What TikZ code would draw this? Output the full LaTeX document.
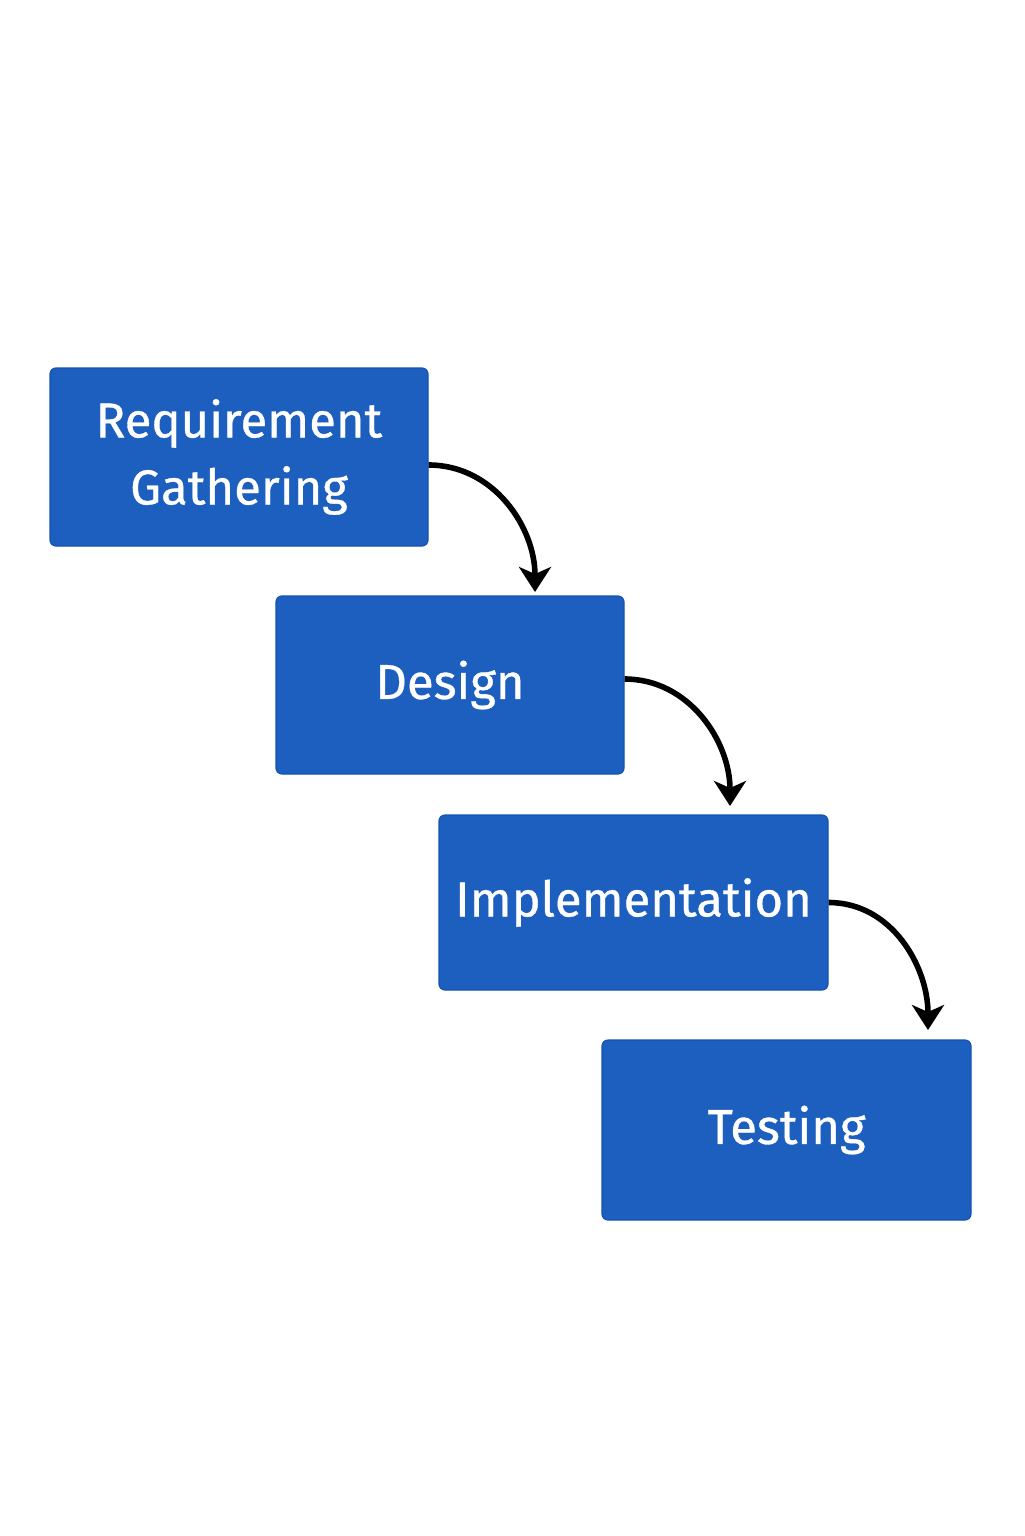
\documentclass[tikz,border=0pt]{standalone}
\usepackage{fontspec}
\setmainfont{Fira Sans}
\newfontfamily\stagefont[FakeBold=0.7]{Fira Sans}
\usetikzlibrary{arrows.meta}
\definecolor{stageblue}{HTML}{1D5FBE}
\definecolor{stageedge}{HTML}{1552B4}
\tikzset{
    stage/.style={draw=stageedge, line width=0.6pt, fill=stageblue, rounded corners=3pt,
        text=white, align=center, inner sep=0pt,
        font=\stagefont\fontsize{24.5}{33.5}\selectfont},
    flow/.style={line width=2.8pt, -{Stealth[length=12.5pt,width=16pt,inset=3.5pt]}},
}
\begin{document}
\begin{tikzpicture}[x=0.5pt, y=-0.5pt]
    \useasboundingbox (0,0) rectangle (1024,1536);
    \node[stage, minimum width=189pt, minimum height=89pt] (req) at (239,457) {Requirement\\Gathering};
    \node[stage, minimum width=174pt, minimum height=89pt] (des) at (450,685) {Design};
    \node[stage, minimum width=194.5pt, minimum height=87.5pt] (imp) at (633.5,902.5) {Implementation};
    \node[stage, minimum width=184.5pt, minimum height=90pt] (tes) at (786.5,1130) {Testing};
    % arrow tips just above the next box
    \coordinate (t1) at (535,592);
    \coordinate (t2) at (730,806);
    \coordinate (t3) at (928,1030);
    \draw[flow] ([yshift=-4pt]req.east) to[out=0, in=90] (t1);
    \draw[flow] ([yshift=3pt]des.east) to[out=0, in=90] (t2);
    \draw[flow] (imp.east) to[out=0, in=90] (t3);
\end{tikzpicture}
\end{document}
